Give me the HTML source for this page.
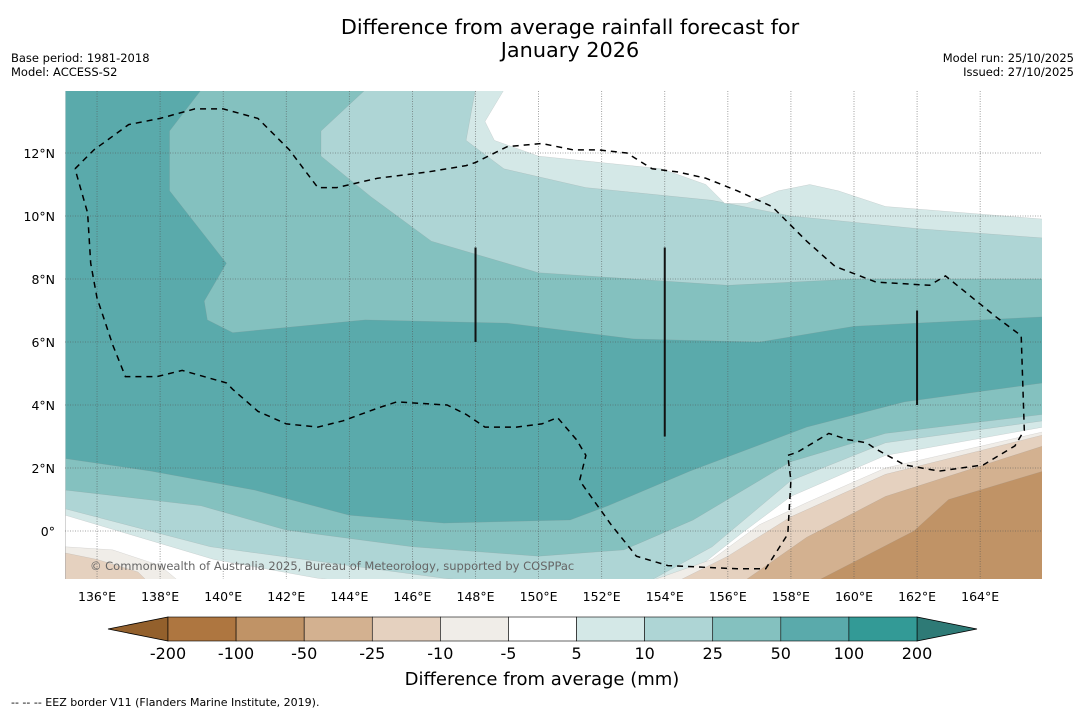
<!DOCTYPE html>
<html><head><meta charset="utf-8"><style>
body{margin:0;background:#fff;}
svg{display:block;font-family:"DejaVu Sans","Liberation Sans",sans-serif;}
</style></head><body>
<svg id="s" width="1085" height="713" viewBox="0 0 1085 713">
<text x="570" y="34" font-size="20.8" text-anchor="middle">Difference from average rainfall forecast for</text>
<text x="570" y="57" font-size="20.8" text-anchor="middle">January 2026</text>
<text x="11" y="62" font-size="11.5">Base period: 1981-2018</text>
<text x="11" y="76" font-size="11.5">Model: ACCESS-S2</text>
<text x="1074" y="62" font-size="11.5" text-anchor="end">Model run: 25/10/2025</text>
<text x="1074" y="76" font-size="11.5" text-anchor="end">Issued: 27/10/2025</text>
<defs><clipPath id="c"><rect x="65" y="91" width="977" height="488"/></clipPath></defs>
<g id="map" clip-path="url(#c)"></g>
<g id="ax"></g>
<g id="cb"></g>
<text x="542" y="685" font-size="18" text-anchor="middle">Difference from average (mm)</text>
<text x="11" y="706" font-size="11">--  --  -- EEZ border V11 (Flanders Marine Institute, 2019).</text>
</svg>
<script>
// axis ticks
const lonTicks=[136,138,140,142,144,146,148,150,152,154,156,158,160,162,164];
const latTicks=[0,2,4,6,8,10,12];
// colour levels
const levels=["-200","-100","-50","-25","-10","-5","5","10","25","50","100","200"];
const colors=["#ae7640","#c09366","#d3b190","#e5d1bf","#f0ede8","#ffffff","#d4e8e7","#aed5d5","#84c1bf","#5aaaab","#339a96"];
// contour bands [lon,lat] polygons, painted in order
const bands=[
 {c:"#5aaaab",p:[[135,14],[166,14],[166,-1.6],[135,-1.6]]},
 {c:"#84c1bf",p:[[139.3,14],[166,14],[166,6.8],[160,6.5],[157,6],[153,6.1],[149,6.6],[144.5,6.7],[140.3,6.3],[139.5,6.7],[139.4,7.3],[140.1,8.5],[138.3,10.8],[138.3,12.7]]},
 {c:"#aed5d5",p:[[144.5,14],[166,14],[166,8],[160,8],[156,7.8],[150,8.2],[146.6,9.2],[144.7,10.6],[143.1,11.9],[143.1,12.7]]},
 {c:"#d4e8e7",p:[[148,14],[166,14],[166,9.3],[162,9.6],[158,10],[155.5,10.5],[151.5,10.9],[148.9,11.5],[147.7,12.4],[147.9,13.5]]},
 {c:"#ffffff",p:[[148.9,14],[166,14],[166,9.9],[161,10.3],[159.5,10.8],[158.6,11],[157.6,10.8],[156.6,10.4],[155.9,10.4],[155.3,11],[153.9,11.5],[150,11.9],[148.6,12.4],[148.3,13]]},
 {c:"#84c1bf",p:[[135,2.3],[137.7,1.9],[141,1.3],[144,0.5],[147,0.25],[151,0.35],[152.2,0.8],[154.8,1.9],[158.5,3.3],[161.6,4.1],[166,4.7],[166,-1.6],[135,-1.6]]},
 {c:"#aed5d5",p:[[135,1.3],[139.3,0.8],[142,0.03],[146,-0.5],[150,-0.8],[152.7,-0.6],[154.9,0.35],[158,2.2],[161,3.1],[166,3.7],[166,-1.6],[135,-1.6]]},
 {c:"#d4e8e7",p:[[135,0.7],[139.6,-0.5],[144,-1.1],[147,-1.5],[150,-1.8],[153.5,-1.6],[155.5,-0.5],[158,1.6],[161,2.8],[166,3.5],[166,-1.6],[135,-1.6]]},
 {c:"#ffffff",p:[[135,0.5],[139.7,-0.9],[143,-1.5],[146,-1.8],[154,-1.8],[154.5,-1.6],[156.4,-0.1],[158,1.1],[161,2.4],[166,3.3],[166,-1.6],[135,-1.6]]},
 {c:"#f0ede8",p:[[153.5,-1.6],[155.5,-0.9],[157,0.2],[158.5,0.9],[161,2],[166,3.15],[166,-1.6]]},
 {c:"#e5d1bf",p:[[154.4,-1.6],[156,-0.8],[158,0.45],[161,1.8],[166,3.05],[166,-1.6]]},
 {c:"#d3b190",p:[[156.5,-1.6],[158.5,-0.2],[161,1.1],[166,2.7],[166,-1.6]]},
 {c:"#c09366",p:[[158.8,-1.6],[161.9,0],[163,1],[166,1.9],[166,-1.6]]},
 {c:"#f0ede8",p:[[135,-0.5],[136.5,-0.6],[138,-1.1],[138.6,-1.6],[135,-1.6]]},
 {c:"#e5d1bf",p:[[135,-0.7],[136,-0.9],[137.3,-1.3],[137.6,-1.6],[135,-1.6]]}
];
// EEZ dashed outline
const eez=[[135.3,11.5],[135.9,12.1],[137,12.9],[138,13.1],[139.1,13.4],[140,13.4],[141.1,13.1],[142.1,12.1],[143,10.9],[143.6,10.9],[144.9,11.2],[146.5,11.4],[147.7,11.6],[148,11.7],[149,12.2],[150.1,12.3],[151.1,12.1],[151.9,12.1],[152.8,12],[153.6,11.5],[154.4,11.4],[155.3,11.2],[156.3,10.8],[157.4,10.3],[158.5,9.2],[159.4,8.4],[160.7,7.9],[162.4,7.8],[162.9,8.1],[164.5,6.8],[165.3,6.2],[165.4,3.2],[165.1,2.7],[164.1,2.1],[162.7,1.9],[161.6,2.1],[160.7,2.6],[160.4,2.8],[159.8,2.9],[159.2,3.1],[158.2,2.5],[157.9,2.4],[158,1.6],[157.9,-0.1],[157.2,-1.2],[156.3,-1.2],[154.1,-1.1],[153.1,-0.8],[152.3,0.2],[151.3,1.6],[151.5,2.4],[151.2,2.9],[150.6,3.6],[150.1,3.4],[149.3,3.3],[148.3,3.3],[147.7,3.7],[147.1,4],[145.5,4.1],[144.9,3.9],[143.8,3.5],[143,3.3],[142,3.4],[141.1,3.8],[140.3,4.5],[140.1,4.7],[138.7,5.1],[137.9,4.9],[136.9,4.9],[136.5,5.9],[136,7.4],[135.8,8.5],[135.7,10.1],[135.3,11.5]];
// EEZ vertical segments [lon, lat1, lat2]
const segs=[[148,6,9],[154,3,9],[162,4,7]];

const X=lon=>65.5+(lon-135)*31.54, Y=lat=>531-lat*31.5;
const NS="http://www.w3.org/2000/svg";
function mk(t,a,parent){const e=document.createElementNS(NS,t);for(const k in a)e.setAttribute(k,a[k]);parent.appendChild(e);return e;}
const map=document.getElementById('map'),ax=document.getElementById('ax'),cb=document.getElementById('cb');
bands.forEach((b,i)=>{
 const e=mk('polygon',{points:b.p.map(q=>X(q[0]).toFixed(1)+','+Y(q[1]).toFixed(1)).join(' '),fill:b.c,stroke:'#888',"stroke-width":0.3,"stroke-opacity":0.5},map);
 
 
});
lonTicks.forEach(l=>{
 const e=mk('line',{x1:X(l),x2:X(l),y1:91,y2:579,stroke:'#555',"stroke-width":0.8,"stroke-dasharray":"1,1.5","stroke-opacity":0.7},map);
 
 
 const t=mk('text',{x:X(l),y:601,"font-size":12.5,"text-anchor":"middle"},ax);t.textContent=l+'°E';
 
 
});
latTicks.forEach(l=>{
 const e=mk('line',{x1:65,x2:1042,y1:Y(l),y2:Y(l),stroke:'#555',"stroke-width":0.8,"stroke-dasharray":"1,1.5","stroke-opacity":0.7},map);
 
 
 const t=mk('text',{x:55,y:Y(l)+5,"font-size":12.5,"text-anchor":"end"},ax);t.textContent=l===0?'0°':l+'°N';
 
 
});
const pe=mk('polyline',{points:eez.map(q=>X(q[0]).toFixed(1)+','+Y(q[1]).toFixed(1)).join(' '),fill:'none',stroke:'#000',"stroke-width":1.5,"stroke-dasharray":"6,5"},map);


segs.forEach(s=>{
 const e=mk('line',{x1:X(s[0]),x2:X(s[0]),y1:Y(s[2]),y2:Y(s[1]),stroke:'#111',"stroke-width":2},map);
 
 
});
const cp=mk('text',{x:90,y:570,"font-size":11.5,fill:'#666'},map);
cp.textContent='© Commonwealth of Australia 2025, Bureau of Meteorology, supported by COSPPac';


// colorbar
const x0=168,x1=917,w=(x1-x0)/colors.length,yt=617,yb=641;
const lt=mk('polygon',{points:`108,629 ${x0},${yt} ${x0},${yb}`,fill:'#93602c',stroke:'#000',"stroke-width":0.8},cb);


const rt=mk('polygon',{points:`977,629 ${x1},${yt} ${x1},${yb}`,fill:'#2e7a76',stroke:'#000',"stroke-width":0.8},cb);


colors.forEach((c,i)=>{
 const r=mk('rect',{x:x0+i*w,y:yt,width:w,height:yb-yt,fill:c,stroke:'#000',"stroke-width":0.6},cb);
 
 
});
levels.forEach((l,i)=>{
 const t=mk('text',{x:x0+i*w,y:659,"font-size":16,"text-anchor":"middle"},cb);t.textContent=l;
 
 
});
</script>
</body></html>
